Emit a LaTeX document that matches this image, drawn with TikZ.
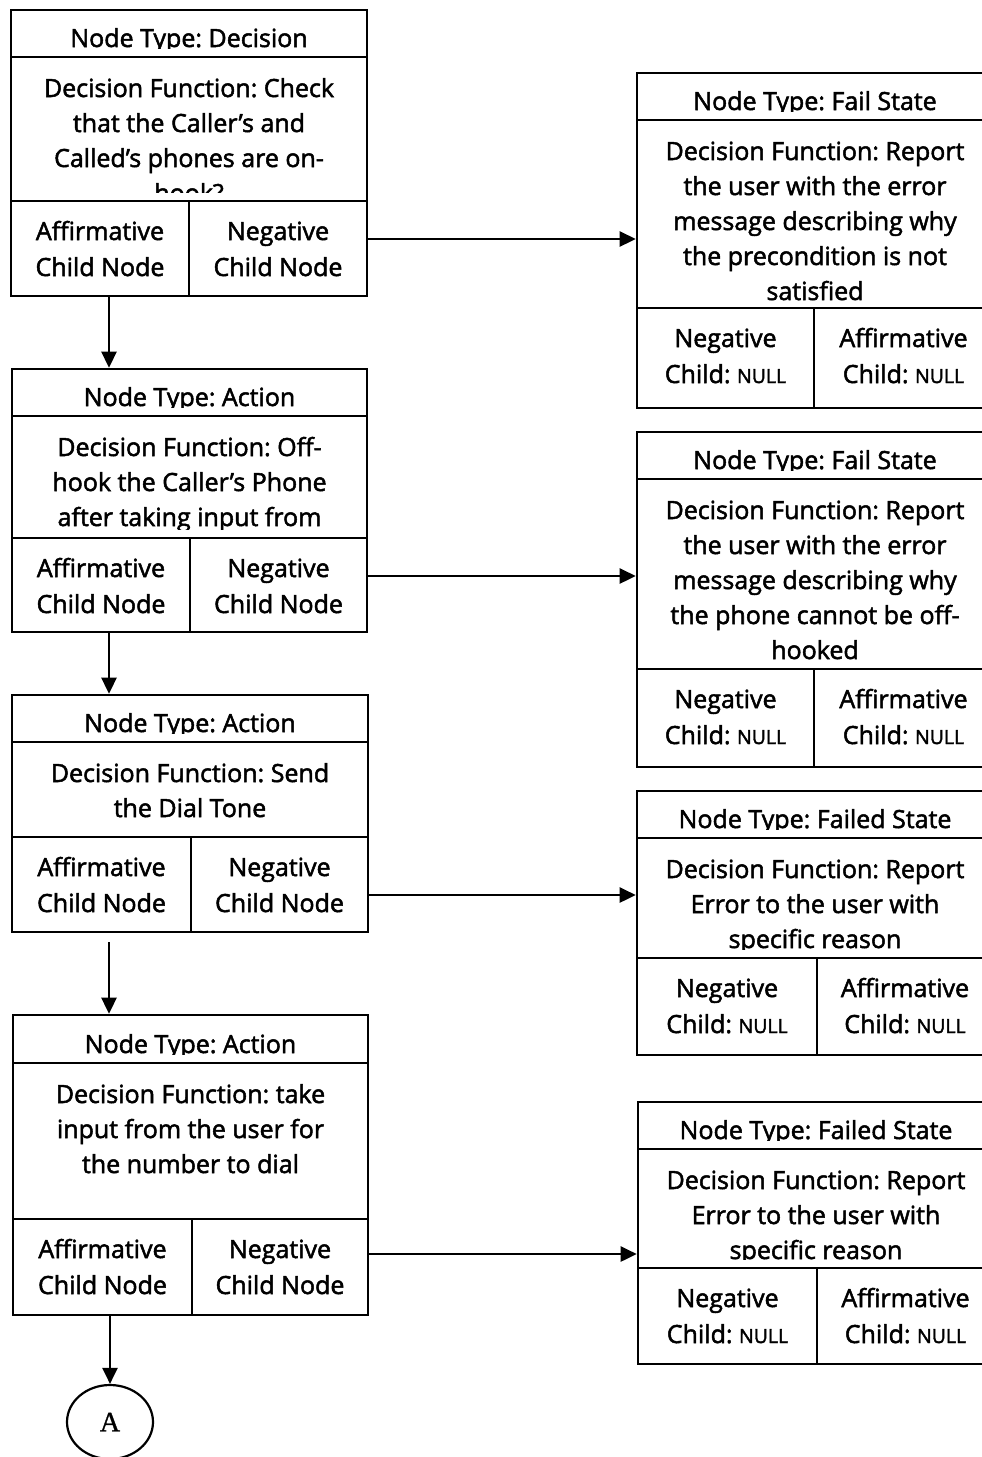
\documentclass[tikz,border=0pt]{standalone}
\usepackage{fontspec}
\setmainfont{Open Sans}[UprightFeatures={FakeBold=2}]
\newfontfamily\connfont{Liberation Serif}[FakeBold=1]
\usetikzlibrary{arrows.meta,fit,shapes.geometric}
\frenchspacing

% text sizes
\newcommand\bodysize{\fontsize{25}{35}\selectfont}
\newcommand\cellsize{\fontsize{25}{36}\selectfont}
\newcommand\nul{{\fontsize{19.5}{20}\selectfont NULL}}

% centred block of lines; (x,y) is the baseline of its first line
\newcommand\textblock[5]{%
  \node[anchor=base, inner sep=0pt] at ({#1},{#2}) {\parbox[t]{#3pt}{\centering#4#5}};}

\def\getxs#1,#2,#3\relax{\def\xa{#1}\def\xb{#2}\def\xs{#3}}
\def\getys#1,#2,#3,#4,#5\relax{\def\ya{#1}\def\yb{#2}\def\yc{#3}\def\yd{#4}\def\yclip{#5}}

% one tree node: header / function / two child cells
% #1 name, #2 {left,right,split}, #3 {top,header,body,bottom,bodyclip}
% #4 header text, #5 function text, #6 left child, #7 right child
\newcommand\treenode[7]{%
  \getxs#2\relax\getys#3\relax
  \node[cellbox, fit={(\xa,\ya)(\xb,\yb)}] (#1-h) {};
  \node[cellbox, fit={(\xa,\yb)(\xb,\yc)}] (#1-b) {};
  \node[cellbox, fit={(\xa,\yc)(\xs,\yd)}] (#1-l) {};
  \node[cellbox, fit={(\xs,\yc)(\xb,\yd)}] (#1-r) {};
  \begin{scope}
    \clip (\xa,\ya) rectangle (\xb,{\yb-9});
    \textblock{(\xa+\xb)/2}{\yb-10}{340}{\cellsize}{#4}
  \end{scope}
  \begin{scope}
    \clip (\xa,\yb) rectangle (\xb,\yclip);
    \textblock{(\xa+\xb)/2}{\yb+40}{340}{\bodysize}{#5}
  \end{scope}
  \textblock{(\xa+\xs)/2}{\yc+39}{170}{\cellsize}{#6}
  \textblock{(\xs+\xb)/2}{\yc+39}{170}{\cellsize}{#7}
}

\begin{document}
\begin{tikzpicture}[x=1pt, y=-1pt,
  cellbox/.style={draw=black, line width=2.6pt, inner sep=0pt, rectangle},
  flow/.style={draw=black, line width=2.6pt, -{Triangle[length=16pt,width=15pt]}},
  connector/.style={draw=black, line width=2.2pt, ellipse, inner sep=0pt,
    minimum width=86pt, minimum height=74pt, font=\connfont\fontsize{28}{28}\selectfont}]
\fill[white] (0,0) rectangle (982,1457);
\useasboundingbox (0,0) rectangle (982,1457);

% main chain
\treenode{B1}{11,367,189}{10,57,201,296,192}{Node Type: Decision}
  {Decision Function: Check\\that the Caller’s and\\Called’s phones are on-\\hook?}
  {Affirmative\\Child Node}{Negative\\Child Node}
\treenode{B2}{12,367,190}{369,416,538,632,529}{Node Type: Action}
  {Decision Function: Off-\\hook the Caller’s Phone\\after taking input from\\the user}
  {Affirmative\\Child Node}{Negative\\Child Node}
\treenode{B3}{12,368,191}{695,742,837,932,837}{Node Type: Action}
  {Decision Function: Send\\the Dial Tone}
  {Affirmative\\Child Node}{Negative\\Child Node}
\treenode{B4}{13,368,192}{1015,1063,1219,1315,1219}{Node Type: Action}
  {Decision Function: take\\input from the user for\\the number to dial}
  {Affirmative\\Child Node}{Negative\\Child Node}

% failure branches
\treenode{R1}{637,993,814}{73,120,308,408,308}{Node Type: Fail State}
  {Decision Function: Report\\the user with the error\\message describing why\\the precondition is not\\satisfied}
  {Negative\\Child: \nul}{Affirmative\\Child: \nul}
\treenode{R2}{637,993,814}{432,479,669,767,669}{Node Type: Fail State}
  {Decision Function: Report\\the user with the error\\message describing why\\the phone cannot be off-\\hooked}
  {Negative\\Child: \nul}{Affirmative\\Child: \nul}
\treenode{R3}{637,993,817}{791,838,958,1055,949}{Node Type: Failed State}
  {Decision Function: Report\\Error to the user with\\specific reason}
  {Negative\\Child: \nul}{Affirmative\\Child: \nul}
\treenode{R4}{638,994,817}{1102,1149,1268,1364,1259}{Node Type: Failed State}
  {Decision Function: Report\\Error to the user with\\specific reason}
  {Negative\\Child: \nul}{Affirmative\\Child: \nul}

\node[connector] (A) at (110,1422) {A};

% guide coordinates for the connectors
\coordinate (v) at (109,0);
\coordinate (n1) at (0,239);
\coordinate (n2) at (0,576);
\coordinate (n3) at (0,895);
\coordinate (n4) at (0,1254);

% affirmative links
\draw[flow] (B1-l.south -| v) -- (B2-h.north -| v);
\draw[flow] (B2-l.south -| v) -- (B3-h.north -| v);
\draw[flow, shorten <=9pt] (B3-l.south -| v) -- (B4-h.north -| v);
\draw[flow] (B4-l.south -| A) -- (A.north);

% negative links
\draw[flow] (B1-r.east |- n1) -- (R1-b.west |- n1);
\draw[flow] (B2-r.east |- n2) -- (R2-b.west |- n2);
\draw[flow] (B3-r.east |- n3) -- (R3-b.west |- n3);
\draw[flow] (B4-r.east |- n4) -- (R4-b.west |- n4);
\end{tikzpicture}
\end{document}
